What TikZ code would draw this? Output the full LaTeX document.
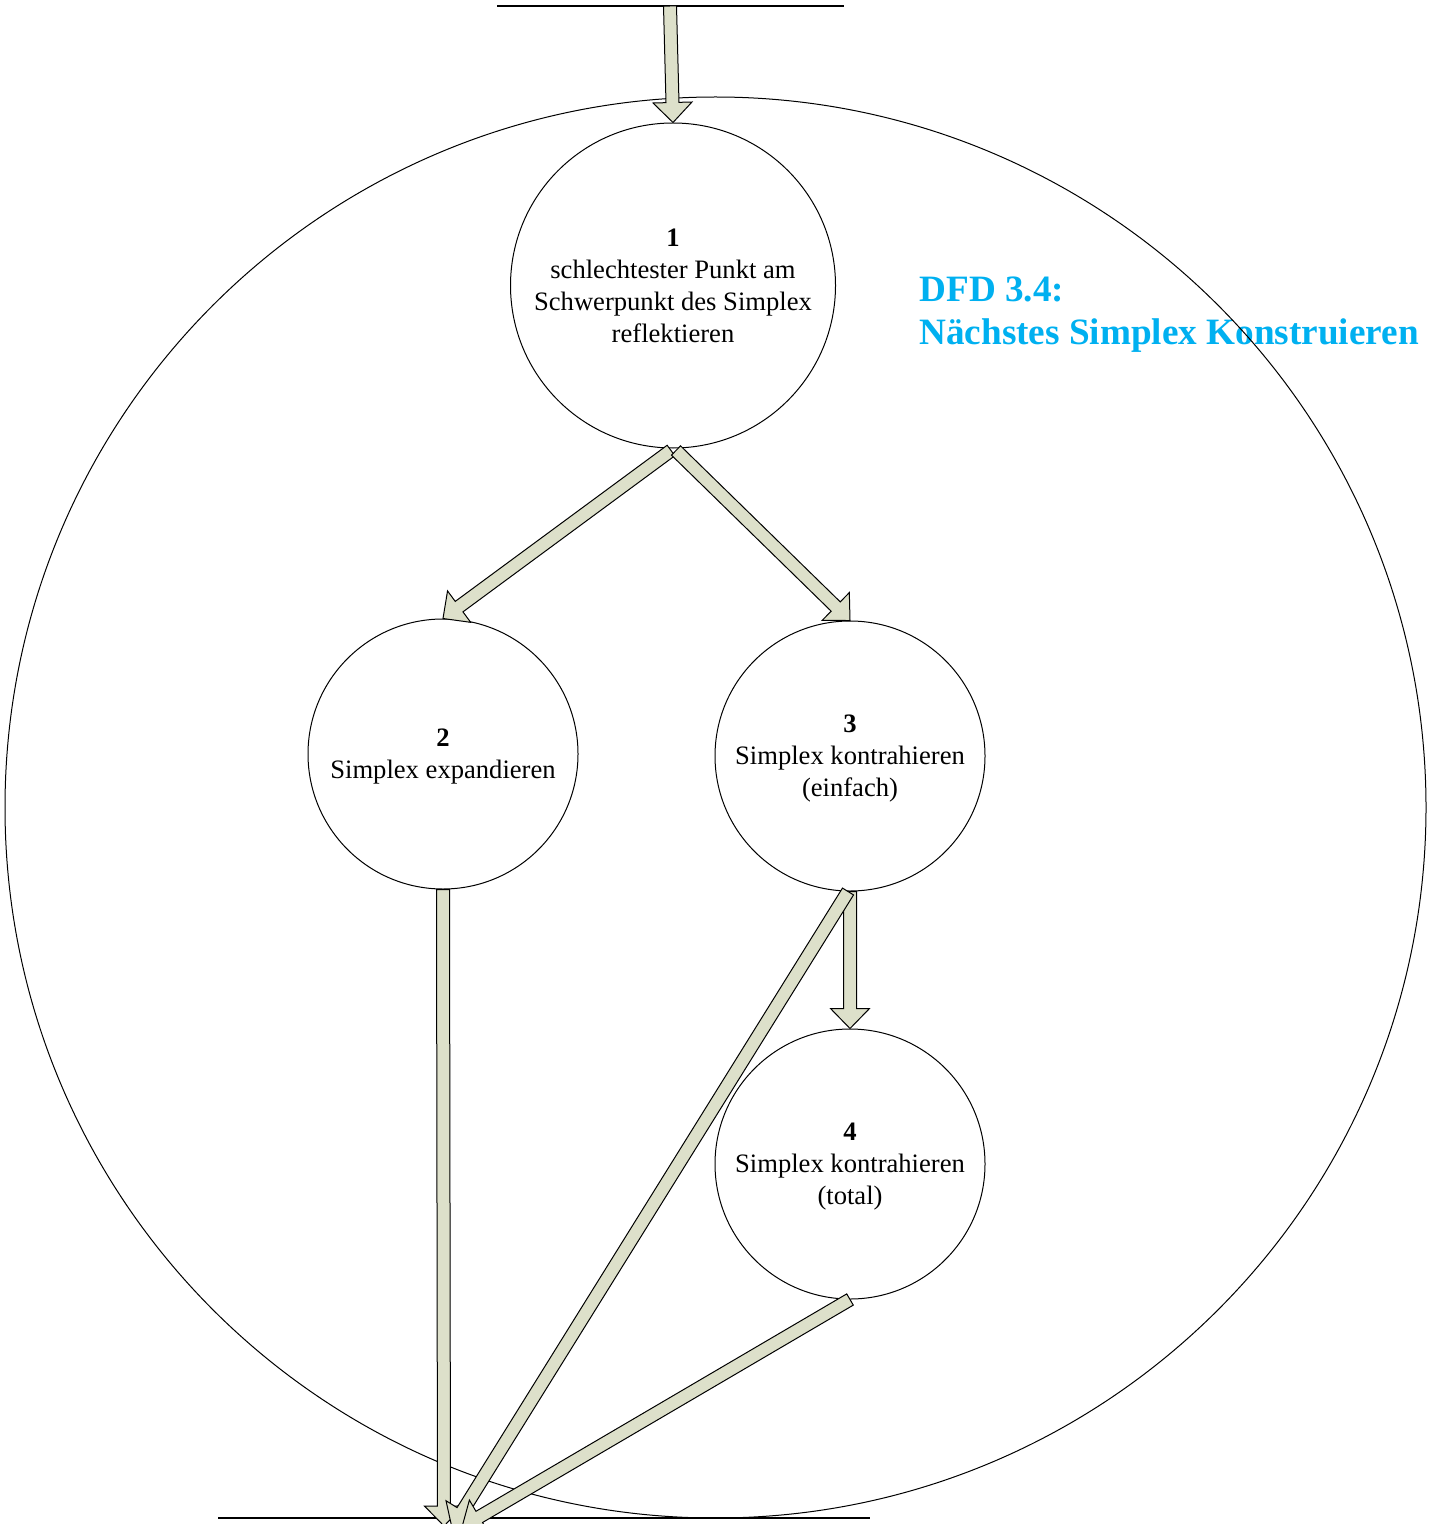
\documentclass[tikz,border=0pt]{standalone}
\usepackage{fontspec}
\setmainfont{Liberation Serif}
\usetikzlibrary{calc}
\definecolor{arrowfill}{RGB}{221,224,202}
\definecolor{titleblue}{RGB}{0,176,240}
\tikzset{
  proc/.style={circle, draw, line width=0.5pt, minimum size=135pt, inner sep=0pt,
    align=center, font=\fontsize{13.3}{16}\selectfont},
  sysbound/.style={circle, draw, line width=0.5pt, minimum size=710.5pt, inner sep=0pt},
  blockarrowstyle/.style={fill=arrowfill, draw=black, line width=0.5pt, line join=miter},
  flowline/.style={draw=black, line width=0.6pt},
  titletext/.style={text=titleblue, anchor=west, inner sep=0pt, align=left,
    font=\bfseries\fontsize{18.6}{21.5}\selectfont}
}
\newcommand\nodepth[1]{\raisebox{0pt}[\height][0pt]{#1}}
\newcommand\blockarrow[2]{%
  \coordinate (ba-h) at ($(#2)!10pt!(#1)$);
  \filldraw[blockarrowstyle] ($(#1)!3.25pt!90:(#2)$) -- ($(ba-h)!3.25pt!-90:(#1)$)
    -- ($(ba-h)!9.75pt!-90:(#1)$) -- (#2) -- ($(ba-h)!9.75pt!90:(#1)$)
    -- ($(ba-h)!3.25pt!90:(#1)$) -- ($(#1)!3.25pt!-90:(#2)$) -- cycle;}
\begin{document}
\begin{tikzpicture}[x=0.5pt, y=-0.5pt]
\useasboundingbox (0,0) rectangle (1438,1524);
\clip (0,0) rectangle (1438,1524);
% title
\node[titletext] (title) at (919,315) {DFD 3.4:\\Nächstes Simplex Konstruieren};
% system boundary
\node[sysbound] (sys) at (715.5,807.5) {};
% top and bottom lines
\coordinate (topL) at (497,6);
\coordinate (topR) at (844,6);
\coordinate (botL) at (218,1518);
\coordinate (botR) at (870,1518);
\draw[flowline] (topL) -- (topR);
\draw[flowline] (botL) -- (botR);
% processes
\node[proc, minimum size=162.5pt] (c1) at (673,285.5)
  {\textbf{1}\\schlechtester Punkt am\\Schwerpunkt des Simplex\\reflektieren};
\node[proc] (c2) at (443,754) {\textbf{2}\\\nodepth{Simplex expandieren}};
\node[proc] (c3) at (850,756) {\textbf{3}\\Simplex kontrahieren\\\nodepth{(einfach)}};
\node[proc] (c4) at (850,1164) {\textbf{4}\\Simplex kontrahieren\\\nodepth{(total)}};
% connector ends
\coordinate (in) at (670,6);
\coordinate (s12) at ($(c1.south)+(-2,2)$);
\coordinate (s13) at ($(c1.south)+(3,2)$);
\coordinate (s3o) at ($(c3.south)+(-2,0)$);
\coordinate (o2) at (444,1526);
\coordinate (o3) at (452,1528);
\coordinate (o4) at (462,1527);
% arrows
\blockarrow{in}{c1.north}
\blockarrow{s12}{c2.north}
\blockarrow{s13}{c3.north}
\blockarrow{c3.south}{c4.north}
\blockarrow{c2.south}{o2}
\blockarrow{s3o}{o3}
\blockarrow{c4.south}{o4}
\end{tikzpicture}
\end{document}
